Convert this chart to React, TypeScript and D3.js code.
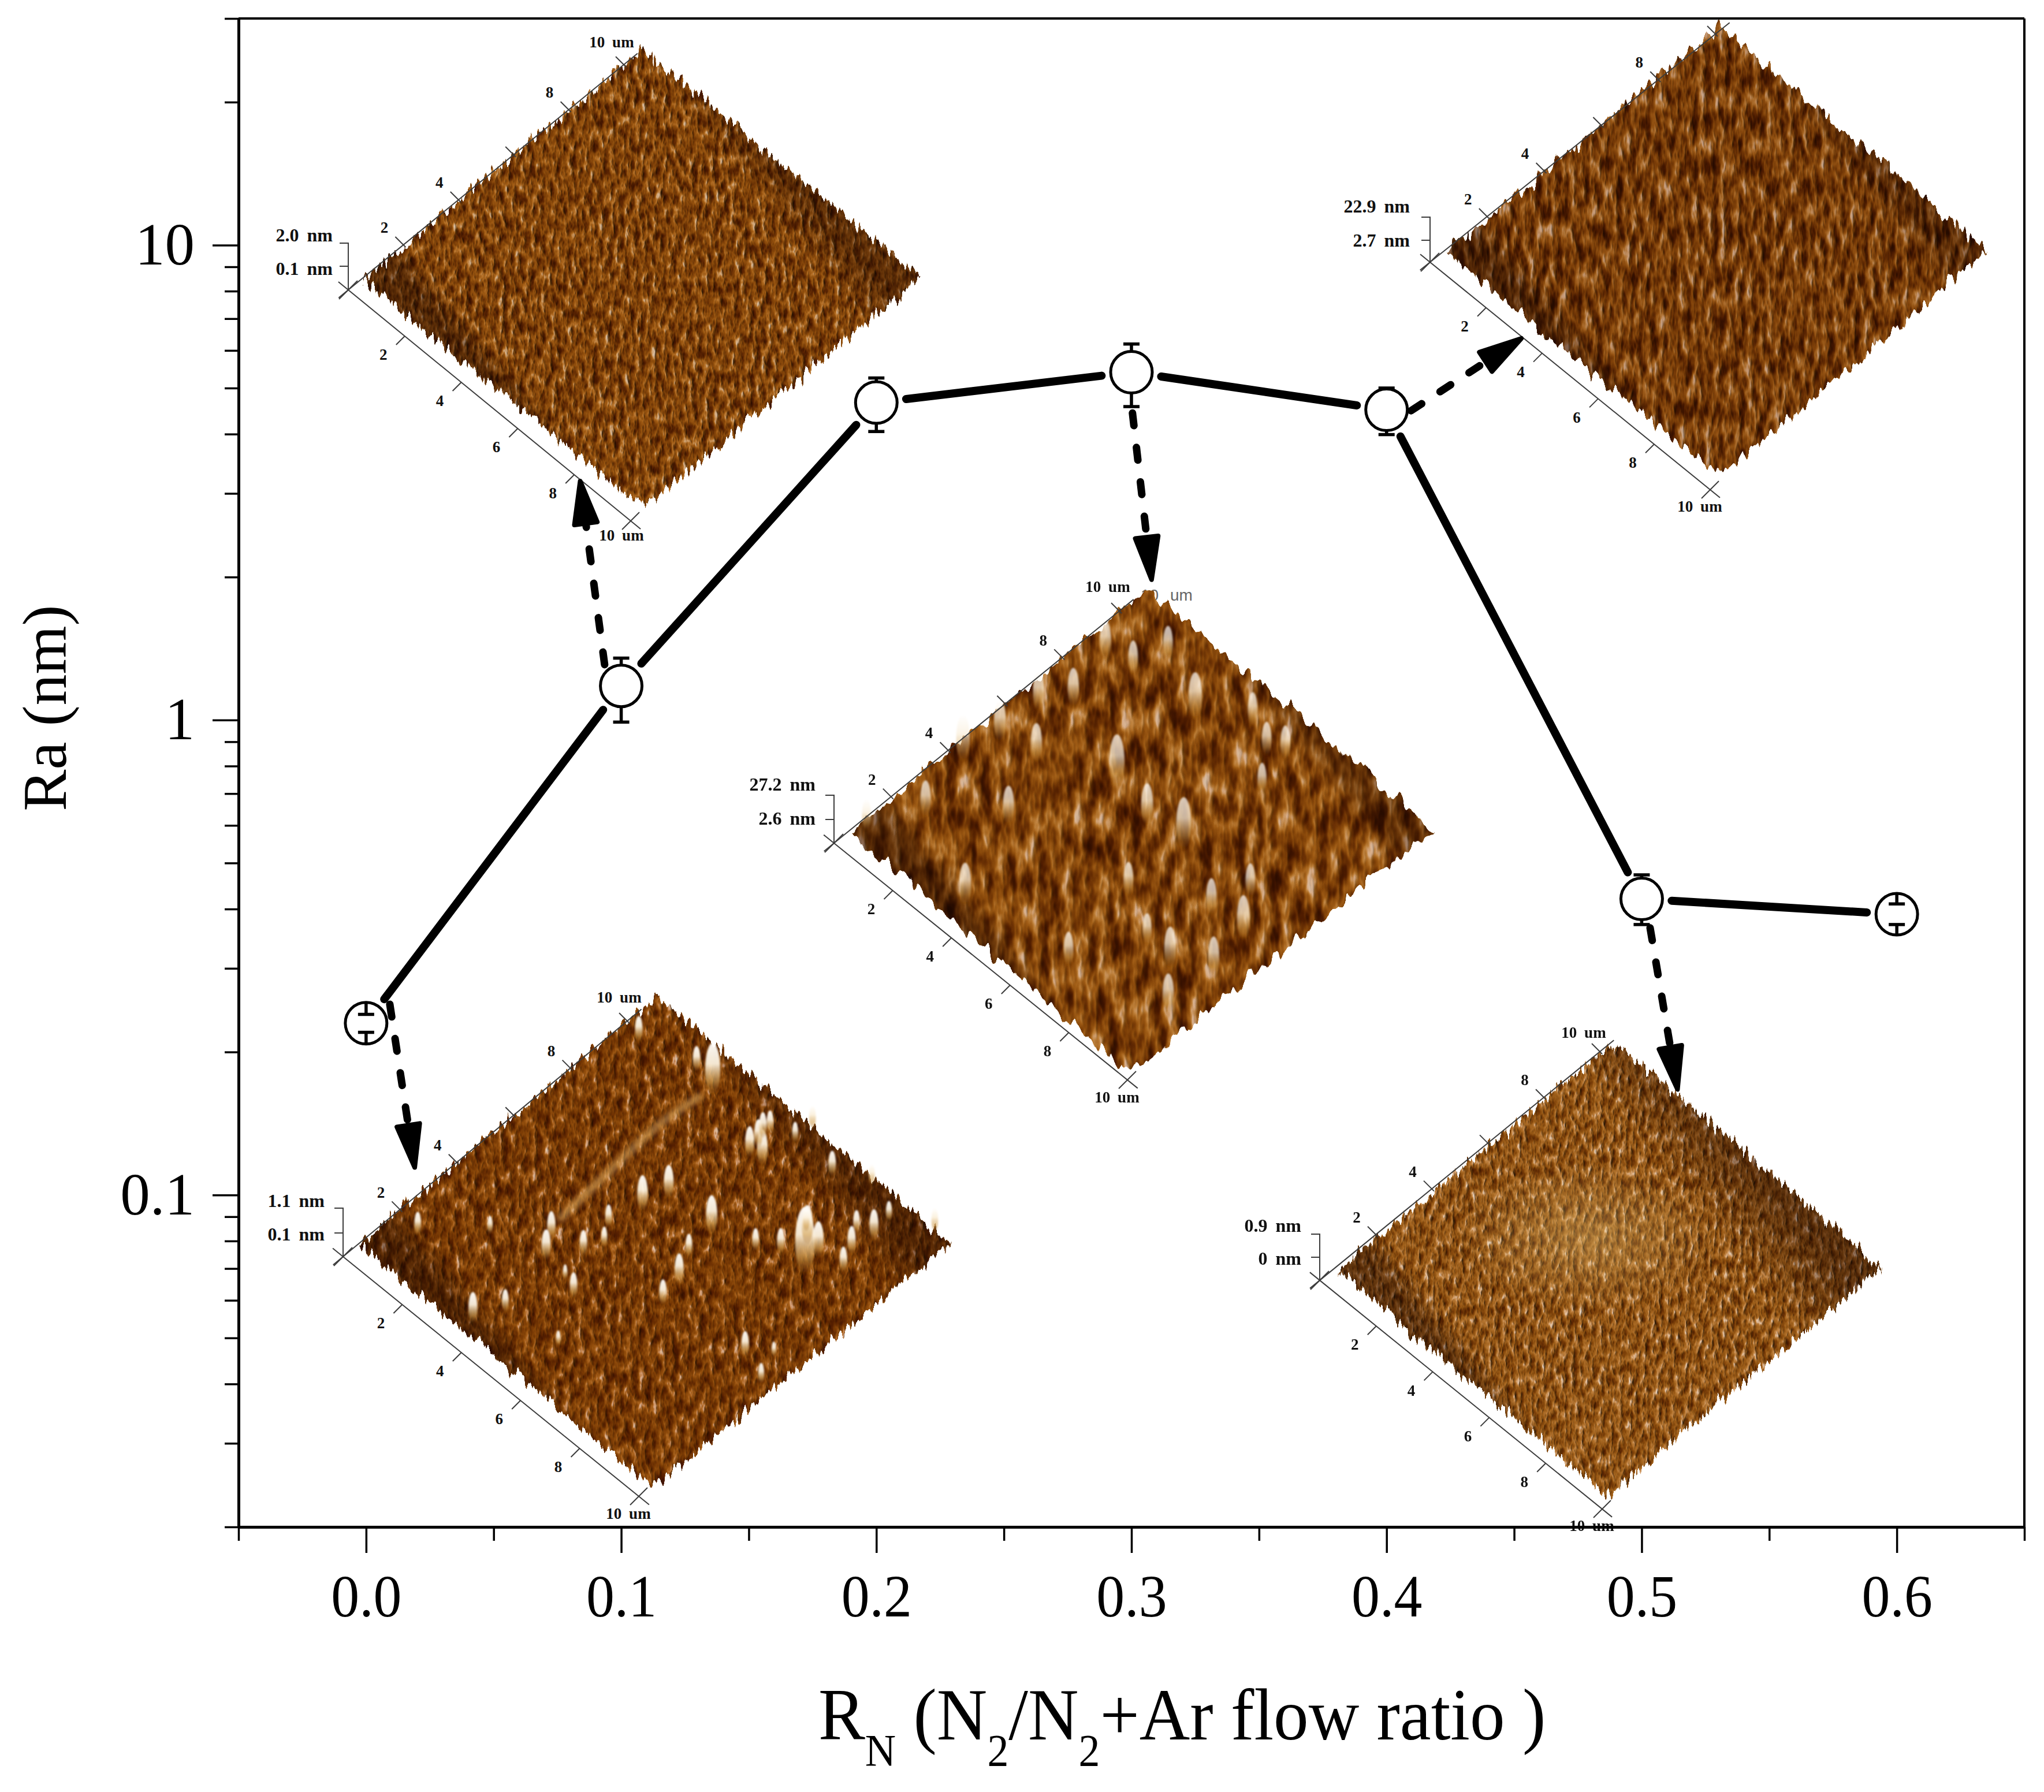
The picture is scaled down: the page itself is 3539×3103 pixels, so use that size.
import React, { useEffect, useRef } from 'react';
import * as d3 from 'd3';

const WIDTH = 3539;
const HEIGHT = 3103;

// Ra against flow ratio
const flowRatio = [0.0, 0.1, 0.2, 0.3, 0.4, 0.5, 0.6];
const raMean = [0.23, 1.18, 4.66, 5.4, 4.5, 0.42, 0.39];
const raUpper = [0.24, 1.35, 5.25, 6.19, 5.0, 0.472, 0.41];
const raLower = [0.22, 0.99, 4.05, 4.57, 3.99, 0.371, 0.371];

const xMajor = [0.0, 0.1, 0.2, 0.3, 0.4, 0.5, 0.6];
const xMinor = [-0.05, 0.05, 0.15, 0.25, 0.35, 0.45, 0.55, 0.65];
const yMajor = [0.1, 1, 10];
const yMinor = [
  0.02, 0.03, 0.04, 0.05, 0.06, 0.07, 0.08, 0.09,
  0.2, 0.3, 0.4, 0.5, 0.6, 0.7, 0.8, 0.9,
  2, 3, 4, 5, 6, 7, 8, 9, 20, 30,
];

// dashed arrows, in axis units: [x0, ra0, x1, ra1]
const arrows = [
  [0.0093, 0.252, 0.0192, 0.113],
  [0.0935, 1.308, 0.0838, 3.22],
  [0.3004, 4.43, 0.308, 1.953],
  [0.4096, 4.48, 0.4536, 6.4],
  [0.5033, 0.365, 0.5142, 0.165],
];

// bright grains on the AFM scans, [u um, v um, size]
const peaksScanA = [
  [2.78, 9.12, 2], [7.98, 7.09, 2.6], [7.5, 7.64, 1.5], [7.98, 7.54, 1.4], [4.04, 5.53, 1.4],
  [4.23, 6.22, 1.3], [4.77, 8.4, 1.2], [5.14, 8.46, 1.4], [4.73, 8.73, 1.1], [4.62, 8.99, 1],
  [4.66, 9.19, 0.9], [5.67, 6.24, 1.5], [3.09, 3.41, 1.1], [3.42, 2.91, 1.2], [3.98, 3.61, 1],
  [4.18, 4.11, 0.8], [3.84, 4.59, 0.9], [5.81, 5.34, 0.9], [6.18, 4.65, 1.2], [6.35, 3.94, 1],
  [4.68, 2.59, 1], [3.46, 0.42, 1.2], [3.82, 1.15, 0.9], [6.83, 6.57, 0.9], [7.3, 6.95, 1],
  [7.28, 7.82, 0.9], [8.75, 7.62, 1], [8.51, 8.13, 1.1], [8.18, 8.62, 0.9], [8.59, 8.8, 1.2],
  [8.5, 9.39, 0.8], [6.59, 9.37, 1], [7.45, 9.85, 0.8], [9.47, 9.97, 0.9], [5.28, 10, 0.9],
  [2.13, 9.22, 1], [0.53, 8.86, 1], [5.28, 9.42, 0.8], [8.81, 4.27, 1], [9.65, 3.98, 0.8],
  [0.74, 1.25, 0.9], [1.97, 2.46, 0.7], [4.2, 2.78, 0.6], [9.34, 4.71, 0.6], [5.44, 1.33, 0.6],
];
const peaksScanC = [
  [6.01, 5.61, 2], [3.49, 5.71, 2], [0.26, 3.52, 1.8], [2.45, 3.01, 1.5], [3.45, 8.4, 1.8],
  [4.89, 5.42, 1.6], [1.07, 6.5, 1.5], [0.54, 5.82, 1.5], [0.62, 8.01, 1.5], [1.6, 4.75, 1.5],
  [3.38, 0.67, 1.6], [9.02, 4.81, 1.7], [8.36, 2.95, 1.6], [9.29, 3.55, 1.5], [7.96, 4.72, 1.4],
  [6.1, 3.65, 1.3], [6.54, 1.21, 1.3], [9.28, 2.02, 1.5], [5.54, 8.86, 1.3], [5.95, 9.11, 1.3],
  [0.83, 1.72, 1.4], [0.1, 0.4, 1.2], [6.29, 8.0, 1.2], [0.52, 4.53, 1.6], [1.45, 8.17, 1.3],
  [1.75, 9.07, 1.3], [4.66, 9.21, 1.3], [7.48, 2.99, 1.2], [8.28, 5.74, 1.3],
];
// the faint ridge across the first scan, along u = 2.8 um
const ridgeScanA = [
  [2.91, 3.91], [2.78, 5.71], [2.67, 7.37], [2.78, 8.67],
];

const SCALE_LABELS = [
  ['1.1 nm', '0.1 nm'], ['2.0 nm', '0.1 nm'], ['27.2 nm', '2.6 nm'], ['22.9 nm', '2.7 nm'], ['0.9 nm', '0 nm'],
];

type Pt = [number, number];

// Colour ramps for the scan texture, these are looks and not measurements
const rampDeep = {
  r: '.30 .30 .33 .40 .48 .56 .65 .78 .95 1 1',
  g: '.10 .10 .12 .17 .24 .31 .39 .52 .80 1 1',
  b: '0 0 0 0 .01 .03 .07 .20 .70 1 1',
};
const rampFine = {
  r: '.30 .30 .34 .42 .52 .62 .72 .84 .96 1 1',
  g: '.10 .10 .13 .19 .28 .37 .46 .60 .85 1 1',
  b: '0 0 0 .01 .03 .06 .11 .26 .70 1 1',
};
const rampStrong = {
  r: '.22 .22 .28 .38 .50 .63 .75 .88 1 1 1',
  g: '.07 .07 .10 .16 .26 .38 .50 .68 .92 1 1',
  b: '0 0 0 0 .02 .06 .14 .36 .85 1 1',
};
const rampPale = {
  r: '.36 .36 .40 .48 .57 .66 .74 .84 .96 1 1',
  g: '.14 .14 .18 .25 .33 .42 .50 .62 .85 1 1',
  b: '0 0 .01 .03 .06 .12 .20 .36 .75 1 1',
};

// Layout of the five inset scans in picture pixels
const scans = [
  {
    left: [621, 2154], top: [1138, 1725], right: [1648, 2154], bottom: [1130, 2575],
    origin: [594, 2176], lowerEnd: [1106, 2591], upperEnd: [1086, 1768],
    bracketTop: 2092, bracketMid: 2135, labelRight: 562, labelY: [2079, 2137],
    topUnit: [1072, 1727], bottomUnit: [1088, 2621],
    grain: '0.085 0.04', edge: '0.14 0.02', seed: 3, ramp: rampDeep, tone: '#e2c8ac', rimHigh: 0.4, rimHighReach: 0.2,
  },
  {
    left: [628, 485], top: [1113, 86], right: [1594, 481], bottom: [1113, 880],
    origin: [603, 502], lowerEnd: [1092, 902], upperEnd: [1080, 112],
    bracketTop: 421, bracketMid: 461, labelRight: 576, labelY: [407, 465],
    topUnit: [1059, 73], bottomUnit: [1076, 927],
    grain: '0.11 0.045', edge: '0.16 0.02', seed: 11, ramp: rampFine, tone: '#dcc2a6', rimHigh: 0.35, rimHighReach: 0.2,
  },
  {
    left: [1475, 1441], top: [1986, 1020], right: [2484, 1436], bottom: [1954, 1856],
    origin: [1444, 1460], lowerEnd: [1952, 1870], upperEnd: [1938, 1058],
    bracketTop: 1377, bracketMid: 1419, labelRight: 1412, labelY: [1358, 1417],
    topUnit: [1918, 1016], bottomUnit: [1934, 1900],
    grain: '0.05 0.018', edge: '0.07 0.02', seed: 23, ramp: rampStrong, tone: '#d8bca0', rimHigh: 0.3, rimHighReach: 0.12,
  },
  {
    left: [2505, 437], top: [2978, 45], right: [3441, 434], bottom: [2978, 826],
    origin: [2476, 454], lowerEnd: [2961, 848], upperEnd: [2970, 59],
    bracketTop: 376, bracketMid: 416, labelRight: 2441, labelY: [357, 416],
    topUnit: null, bottomUnit: [2943, 877],
    grain: '0.085 0.026', edge: '0.1 0.02', seed: 37, ramp: rampStrong, tone: '#c8a88c', rimHigh: 0.3, rimHighReach: 0.15,
  },
  {
    left: [2316, 2200], top: [2795, 1805], right: [3259, 2195], bottom: [2783, 2590],
    origin: [2285, 2217], lowerEnd: [2774, 2613], upperEnd: [2770, 1821],
    bracketTop: 2137, bracketMid: 2177, labelRight: 2253, labelY: [2122, 2179],
    topUnit: [2742, 1788], bottomUnit: [2756, 2642],
    grain: '0.12 0.05', edge: '0.18 0.02', seed: 51, ramp: rampPale, tone: '#ecdcc8', rimHigh: 0.45, rimHighReach: 0.4,
  },
];

const SERIF = '"Liberation Serif", "Times New Roman", serif';

export default function App() {
  const svgRef = useRef<SVGSVGElement>(null);

  useEffect(() => {
    if (!svgRef.current) return;
    const svg = d3.select(svgRef.current);
    svg.selectAll('*').remove();

    const x = d3.scaleLinear().domain([-0.05, 0.65]).range([413, 3505]);
    const y = d3.scaleLog().domain([0.02, 30]).range([2644, 32]);

    svg.append('rect').attr('width', WIDTH).attr('height', HEIGHT).attr('fill', '#fff');
    const defs = svg.append('defs');

    const peakGrad = defs.append('linearGradient').attr('id', 'peakGrad').attr('x1', 0).attr('y1', 0).attr('x2', 0).attr('y2', 1);
    [
      [0, '#ffffff', 0.95], [0.4, '#fbf0dc', 0.95], [0.75, '#d2a050', 0.6], [1, '#8a4f0c', 0],
    ].forEach(([o, c, a]) => {
      peakGrad.append('stop').attr('offset', o as number).attr('stop-color', c as string).attr('stop-opacity', a as number);
    });
    defs.append('filter').attr('id', 'soft').append('feGaussianBlur').attr('stdDeviation', 1.5);
    defs.append('filter').attr('id', 'softer').append('feGaussianBlur').attr('stdDeviation', 5);
    const glow = defs.append('radialGradient').attr('id', 'glow');
    glow.append('stop').attr('offset', 0).attr('stop-color', '#f2d488').attr('stop-opacity', 0.32);
    glow.append('stop').attr('offset', 1).attr('stop-color', '#f2d488').attr('stop-opacity', 0);

    // Ghost of an older label that pokes out behind the middle scan
    svg.append('text')
      .attr('x', 1975).attr('y', 1040)
      .attr('font-family', '"Liberation Sans", sans-serif').attr('font-size', 28)
      .attr('fill', '#666').attr('word-spacing', 12)
      .text('10 um');

    scans.forEach((scan, i) => {
      const { left, top, right, bottom } = scan;
      const xs = [left[0], top[0], right[0], bottom[0]];
      const ys = [left[1], top[1], right[1], bottom[1]];
      const fx = d3.min(xs)! - 90;
      const fy = d3.min(ys)! - 90;
      const fw = d3.max(xs)! - fx + 90;
      const fh = d3.max(ys)! - fy + 90;

      // feTurbulence gives the grain of the scan, the pattern is only a look
      const f = defs.append('filter')
        .attr('id', `scan${i}`)
        .attr('filterUnits', 'userSpaceOnUse')
        .attr('color-interpolation-filters', 'sRGB')
        .attr('x', fx).attr('y', fy).attr('width', fw).attr('height', fh);
      f.append('feTurbulence').attr('type', 'fractalNoise').attr('baseFrequency', scan.edge)
        .attr('numOctaves', 2).attr('seed', scan.seed).attr('result', 'edgeNoise');
      f.append('feColorMatrix').attr('in', 'edgeNoise').attr('type', 'matrix')
        .attr('values', '1 0 0 0 0  0 0 0 0 .5  0 0 0 0 .5  0 0 0 0 1').attr('result', 'edgeMap');
      f.append('feDisplacementMap').attr('in', 'SourceGraphic').attr('in2', 'edgeMap')
        .attr('scale', 46).attr('xChannelSelector', 'G').attr('yChannelSelector', 'R').attr('result', 'shape');
      f.append('feTurbulence').attr('type', 'fractalNoise').attr('baseFrequency', scan.grain)
        .attr('numOctaves', 3).attr('seed', scan.seed + 1).attr('result', 'grain');
      f.append('feColorMatrix').attr('in', 'grain').attr('type', 'matrix')
        .attr('values', '1 0 0 0 0  1 0 0 0 0  1 0 0 0 0  0 0 0 0 1').attr('result', 'gray');
      const ct = f.append('feComponentTransfer').attr('in', 'gray').attr('result', 'tint');
      ct.append('feFuncR').attr('type', 'table').attr('tableValues', scan.ramp.r);
      ct.append('feFuncG').attr('type', 'table').attr('tableValues', scan.ramp.g);
      ct.append('feFuncB').attr('type', 'table').attr('tableValues', scan.ramp.b);
      f.append('feColorMatrix').attr('in', 'grain').attr('type', 'matrix')
        .attr('values', '0 0 0 0 0  0 0 0 0 0  0 0 0 0 0  1 0 0 0 0').attr('result', 'height');
      const lit = f.append('feDiffuseLighting').attr('in', 'height').attr('surfaceScale', 3.5)
        .attr('diffuseConstant', 1.1).attr('lighting-color', '#fff').attr('result', 'lit');
      lit.append('feDistantLight').attr('azimuth', 180).attr('elevation', 65);
      f.append('feBlend').attr('in', 'tint').attr('in2', 'lit').attr('mode', 'multiply').attr('result', 'relief');
      f.append('feBlend').attr('in', 'relief').attr('in2', 'shape').attr('mode', 'multiply').attr('result', 'shaded');
      f.append('feComposite').attr('in', 'shaded').attr('in2', 'shape').attr('operator', 'in');

      // Darker rims on the two far edges
      const cx = (left[0] + right[0]) / 2;
      const cy = (top[1] + bottom[1]) / 2;
      const rim = (id: string, a: number[], b: number[], op: number, reach: number) => {
        const mx = (a[0] + b[0]) / 2;
        const my = (a[1] + b[1]) / 2;
        const g = defs.append('linearGradient').attr('id', id).attr('gradientUnits', 'userSpaceOnUse')
          .attr('x1', mx).attr('y1', my).attr('x2', mx + (cx - mx) * reach).attr('y2', my + (cy - my) * reach);
        g.append('stop').attr('offset', 0).attr('stop-color', '#2a0c00').attr('stop-opacity', op);
        g.append('stop').attr('offset', 1).attr('stop-color', '#2a0c00').attr('stop-opacity', 0);
      };
      rim(`rimLow${i}`, left, bottom, 0.42, 0.12);
      rim(`rimHigh${i}`, top, right, scan.rimHigh, scan.rimHighReach);

      const corners = [left, top, right, bottom].map((p) => p.join(',')).join(' ');
      const surface = svg.append('g').attr('filter', `url(#scan${i})`);
      surface.append('polygon').attr('points', corners).attr('fill', scan.tone);
      surface.append('polygon').attr('points', corners).attr('fill', `url(#rimLow${i})`);
      surface.append('polygon').attr('points', corners).attr('fill', `url(#rimHigh${i})`);

      // Soft pale patch in the middle of the last scan
      if (i === 4) {
        svg.append('ellipse').attr('cx', cx - 37).attr('cy', cy - 57)
          .attr('rx', 230).attr('ry', 130).attr('fill', 'url(#glow)');
      }

      // um on the surface to picture pixels
      const surfX = d3.scaleLinear().domain([0, 10]);
      const surfacePoint = (u: number, v: number): Pt => [
        left[0] + surfX.range([0, bottom[0] - left[0]])(u) + surfX.range([0, top[0] - left[0]])(v),
        left[1] + surfX.range([0, bottom[1] - left[1]])(u) + surfX.range([0, top[1] - left[1]])(v),
      ];

      if (i === 0) {
        const ridge = d3.line<number[]>()
          .x((d) => surfacePoint(d[0], d[1])[0])
          .y((d) => surfacePoint(d[0], d[1])[1])
          .curve(d3.curveCatmullRom);
        svg.append('path').attr('d', ridge(ridgeScanA))
          .attr('fill', 'none').attr('stroke', '#d9a860').attr('stroke-opacity', 0.6)
          .attr('stroke-width', 13).attr('stroke-linecap', 'round').attr('filter', 'url(#softer)');
      }

      const peaks = i === 0 ? peaksScanA : i === 2 ? peaksScanC : [];
      svg.append('g').attr('filter', 'url(#soft)')
        .selectAll('ellipse').data(peaks).enter().append('ellipse')
        .attr('cx', (d) => surfacePoint(d[0], d[1])[0])
        .attr('cy', (d) => surfacePoint(d[0], d[1])[1] - 14 * d[2])
        .attr('rx', (d) => 6.5 * d[2])
        .attr('ry', (d) => 23 * d[2])
        .attr('fill', 'url(#peakGrad)')
        .attr('opacity', i === 2 ? 0.75 : 1);

      // Axes of the scan
      const ax = svg.append('g').attr('stroke', '#3c3c3c').attr('stroke-width', 2).attr('fill', 'none');
      const o = scan.origin;
      const lowerEnd = scan.lowerEnd;
      const upperEnd = scan.upperEnd;
      const along = (end: number[], t: number): Pt => [
        o[0] + ((end[0] - o[0]) * t) / 10,
        o[1] + ((end[1] - o[1]) * t) / 10,
      ];
      const seg = (a: Pt, b: Pt) => ax.append('line').attr('x1', a[0]).attr('y1', a[1]).attr('x2', b[0]).attr('y2', b[1]);
      seg(along(lowerEnd, -0.35), along(lowerEnd, 10.35));
      seg(along(upperEnd, -0.35), along(upperEnd, 10.5));
      [2, 4, 6, 8, 10].forEach((t) => {
        const p = along(lowerEnd, t);
        seg(p, [p[0] - 15, p[1] + 15]);
        if (t === 10) seg(p, [p[0] + 15, p[1] - 15]);
        const q = along(upperEnd, t);
        seg([q[0] + 4, q[1] + 4], [q[0] - 14, q[1] - 14]);
      });
      seg([o[0] - 16, o[1] + 16], [o[0] + 16, o[1] - 16]);

      // z scale bracket
      ax.append('path').attr('d', d3.line()([
        [o[0] - 15, scan.bracketTop], [o[0], scan.bracketTop], [o[0], o[1]],
      ])!);
      seg([o[0] - 15, scan.bracketMid], [o[0], scan.bracketMid]);

      const labels = svg.append('g')
        .attr('font-family', SERIF).attr('font-weight', 'bold').attr('fill', '#111');
      const label = (t: string, px: number, py: number, size: number, anchor = 'middle') => labels.append('text')
        .attr('x', px).attr('y', py).attr('dy', '0.34em')
        .attr('font-size', size).attr('text-anchor', anchor).attr('word-spacing', 6)
        .text(t);
      [2, 4, 6, 8].forEach((t) => {
        const p = along(lowerEnd, t);
        label(String(t), p[0] - 37, p[1] + 32, 27);
      });
      [2, 4, 8].forEach((t) => {
        const q = along(upperEnd, t);
        label(String(t), q[0] - 33, q[1] - 30, 27);
      });
      if (scan.topUnit) label('10 um', scan.topUnit[0], scan.topUnit[1], 27);
      label('10 um', scan.bottomUnit[0], scan.bottomUnit[1], 27);
      label(SCALE_LABELS[i][0], scan.labelRight, scan.labelY[0], 32, 'end');
      label(SCALE_LABELS[i][1], scan.labelRight, scan.labelY[1], 32, 'end');
    });

    // Frame and axes
    const axisStyle = (g: d3.Selection<SVGGElement, unknown, null, undefined>, w: number) => {
      g.selectAll('path.domain').attr('stroke', '#000').attr('stroke-width', w);
      g.selectAll('.tick line').attr('stroke', '#000').attr('stroke-width', 3.5);
    };
    svg.append('line').attr('x1', 413).attr('x2', 3505).attr('y1', 32).attr('y2', 32).attr('stroke', '#000').attr('stroke-width', 4);
    svg.append('line').attr('x1', 3505).attr('x2', 3505).attr('y1', 32).attr('y2', 2644).attr('stroke', '#000').attr('stroke-width', 4);

    const gxMinor = svg.append('g').attr('transform', 'translate(0,2644)')
      .call(d3.axisBottom(x).tickValues(xMinor).tickSize(24).tickSizeOuter(0).tickFormat(() => ''));
    axisStyle(gxMinor as any, 5);
    const gxMajor = svg.append('g').attr('transform', 'translate(0,2644)')
      .call(d3.axisBottom(x).tickValues(xMajor).tickSize(45).tickSizeOuter(0).tickPadding(37).tickFormat(d3.format('.1f') as any));
    axisStyle(gxMajor as any, 5);
    gxMajor.selectAll('text').attr('font-family', SERIF).attr('font-size', 103).attr('fill', '#000')
      .attr('transform', 'scale(0.95,1)');

    const gyMinor = svg.append('g').attr('transform', 'translate(413,0)')
      .call(d3.axisLeft(y).tickValues(yMinor).tickSize(24).tickSizeOuter(0).tickFormat(() => ''));
    axisStyle(gyMinor as any, 5);
    const gyMajor = svg.append('g').attr('transform', 'translate(413,0)')
      .call(d3.axisLeft(y).tickValues(yMajor).tickSize(45).tickSizeOuter(0).tickPadding(31).tickFormat((d) => String(d)));
    axisStyle(gyMajor as any, 5);
    gyMajor.selectAll('text').attr('font-family', SERIF).attr('font-size', 103).attr('fill', '#000');

    // Axis titles
    svg.append('text')
      .attr('transform', 'translate(114,1226) rotate(-90)')
      .attr('text-anchor', 'middle')
      .attr('font-family', SERIF).attr('font-size', 108).attr('fill', '#000')
      .text('Ra (nm)');

    const xTitle = svg.append('text')
      .attr('transform', 'translate(1417,3012) scale(0.947,1)')
      .attr('font-family', SERIF).attr('font-size', 128).attr('fill', '#000');
    const subscripted: [string, boolean][] = [
      ['R', false], ['N', true], [' (N', false], ['2', true], ['/N', false], ['2', true], ['+Ar flow ratio )', false],
    ];
    subscripted.forEach(([t, sub], idx) => {
      const wasSub = idx > 0 && subscripted[idx - 1][1];
      xTitle.append('tspan')
        .attr('font-size', sub ? 78 : 128)
        .attr('dy', sub ? 45 : wasSub ? -45 : 0)
        .attr('xml:space', 'preserve')
        .text(t);
    });

    // Connecting line, cut back from each symbol
    const GAP = 52;
    const series = flowRatio.map((r, i) => ({ px: x(r), py: y(raMean[i]), hi: y(raUpper[i]), lo: y(raLower[i]) }));
    const connector = d3.line<Pt>();
    d3.pairs(series).forEach(([a, b]) => {
      const len = Math.hypot(b.px - a.px, b.py - a.py);
      const ux = (b.px - a.px) / len;
      const uy = (b.py - a.py) / len;
      svg.append('path')
        .attr('d', connector([
          [a.px + ux * GAP, a.py + uy * GAP],
          [b.px - ux * GAP, b.py - uy * GAP],
        ])!)
        .attr('fill', 'none').attr('stroke', '#000').attr('stroke-width', 14).attr('stroke-linecap', 'round');
    });

    // Dashed arrows
    const HEAD_LEN = 78;
    const HEAD_HALF = 20;
    arrows.forEach(([x0, r0, x1, r1]) => {
      const sx = x(x0);
      const sy = y(r0);
      const tx = x(x1);
      const ty = y(r1);
      const len = Math.hypot(tx - sx, ty - sy);
      const ux = (tx - sx) / len;
      const uy = (ty - sy) / len;
      const bx = tx - ux * HEAD_LEN;
      const by = ty - uy * HEAD_LEN;
      svg.append('path')
        .attr('d', connector([[sx, sy], [bx, by]])!)
        .attr('fill', 'none').attr('stroke', '#000').attr('stroke-width', 13)
        .attr('stroke-linecap', 'round').attr('stroke-dasharray', '22 38');
      svg.append('polygon')
        .attr('points', [
          [tx - ux * 4, ty - uy * 4],
          [bx - uy * HEAD_HALF, by + ux * HEAD_HALF],
          [bx + uy * HEAD_HALF, by - ux * HEAD_HALF],
        ].map((p) => p.join(',')).join(' '))
        .attr('fill', '#000').attr('stroke', '#000').attr('stroke-width', 8).attr('stroke-linejoin', 'round');
    });

    // Symbols and error bars
    const R = 36;
    const marks = svg.append('g').selectAll('g').data(series).enter().append('g');
    marks.append('circle')
      .attr('cx', (d) => d.px).attr('cy', (d) => d.py).attr('r', R)
      .attr('fill', '#fff').attr('stroke', '#000').attr('stroke-width', 5);
    const bars = svg.append('g').attr('stroke', '#000').attr('stroke-width', 5.5).attr('fill', 'none');
    series.forEach((d) => {
      [[d.hi, d.py - R], [d.lo, d.py + R]].forEach(([cap, edge]) => {
        bars.append('line').attr('x1', d.px).attr('x2', d.px).attr('y1', edge).attr('y2', cap);
        bars.append('line').attr('x1', d.px - 14).attr('x2', d.px + 14).attr('y1', cap).attr('y2', cap);
      });
    });
  }, []);

  return (
    <svg
      ref={svgRef}
      width={WIDTH}
      height={HEIGHT}
      viewBox={`0 0 ${WIDTH} ${HEIGHT}`}
      style={{ position: 'absolute', left: 0, top: 0, display: 'block' }}
    />
  );
}
